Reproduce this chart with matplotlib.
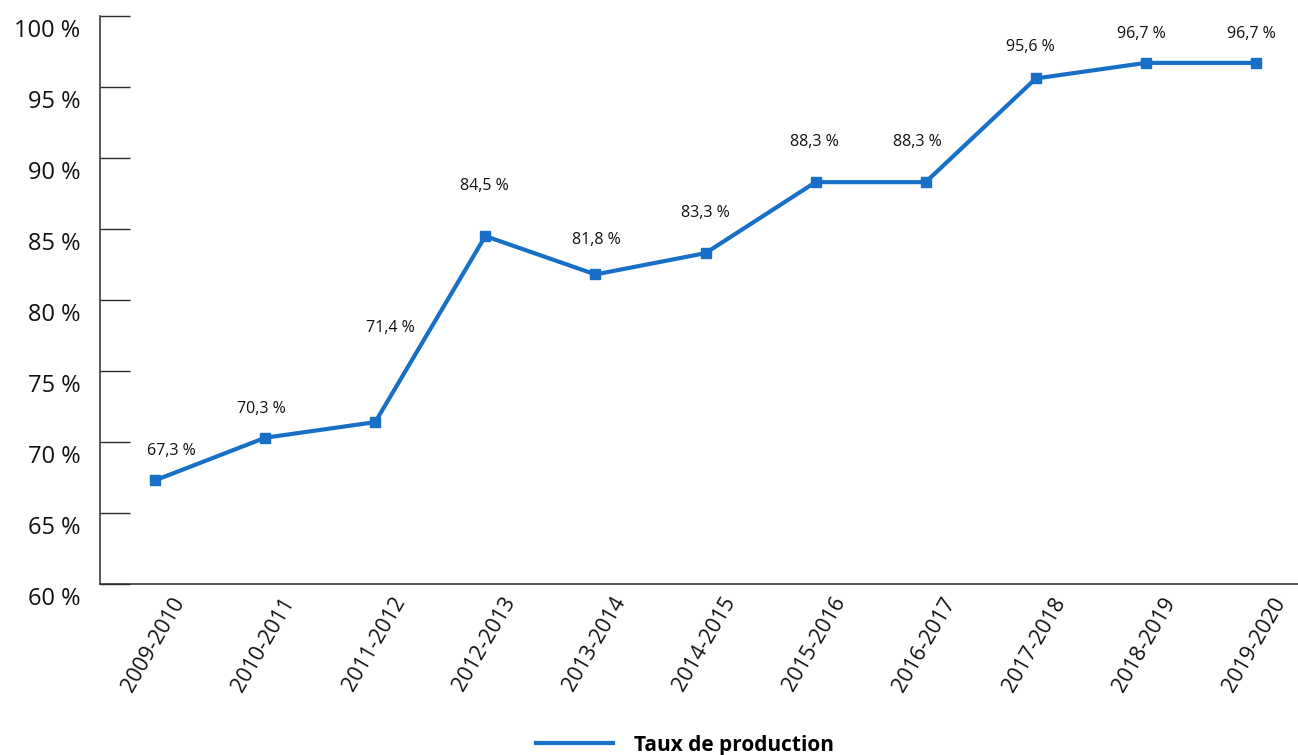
import matplotlib
matplotlib.use("Agg")
import matplotlib.pyplot as plt
import matplotlib.transforms as mtransforms

plt.rcParams['font.family'] = ['Open Sans', 'DejaVu Sans']

# Data
years = ["2009-2010", "2010-2011", "2011-2012", "2012-2013", "2013-2014",
         "2014-2015", "2015-2016", "2016-2017", "2017-2018", "2018-2019",
         "2019-2020"]
taux = [67.3, 70.3, 71.4, 84.5, 81.8, 83.3, 88.3, 88.3, 95.6, 96.7, 96.7]
y_ticks = [60, 65, 70, 75, 80, 85, 90, 95, 100]

# label offsets (points) relative to each marker
label_dx = [12, -3, 11, -1, 1, 0, -1, -6, -4, -3, -3]
label_dy = [21, 21, 68, 36, 25, 29, 29, 29, 23, 21, 21]

BLUE = "#176fc8"
DARK = "#2b2b2b"


def main():
    fig = plt.figure(figsize=(12.98, 7.55), dpi=100)
    ax = fig.add_axes([100 / 1298, 171 / 755, 1211 / 1298, 568 / 755])

    x = list(range(len(years)))
    ax.plot(x, taux, color=BLUE, linewidth=3, marker="s", markersize=7.5,
            clip_on=False, zorder=3)

    for i, v in enumerate(taux):
        ax.annotate(f"{v:.1f} %".replace(".", ","), (x[i], v),
                    xytext=(label_dx[i], label_dy[i]), textcoords="offset points",
                    ha="center", va="center", fontsize=11.5, color="#111111")

    ax.set_xlim(-0.5, len(years) - 0.5)
    ax.set_ylim(60, 100)
    ax.set_yticks(y_ticks)
    ax.set_yticklabels([f"{t} %" for t in y_ticks])
    ax.set_xticks(x)
    ax.set_xticklabels(years)

    for s in ["top", "right"]:
        ax.spines[s].set_visible(False)
    for s in ["left", "bottom"]:
        ax.spines[s].set_color(DARK)
        ax.spines[s].set_linewidth(1.1)

    ax.tick_params(axis="y", direction="in", length=21.5, width=1.0,
                   color=DARK, pad=14, labelsize=17, labelcolor="#111111")
    ax.tick_params(axis="x", length=0, pad=2, labelsize=15.5, labelcolor="#111111")

    # y labels sit a little below their tick
    offset_y = mtransforms.ScaledTranslation(0, -12 / 100, fig.dpi_scale_trans)
    for lab in ax.get_yticklabels():
        lab.set_transform(lab.get_transform() + offset_y)

    offset_x = mtransforms.ScaledTranslation(25 / 100, -12 / 100, fig.dpi_scale_trans)
    for lab in ax.get_xticklabels():
        lab.set_rotation(60)
        lab.set_ha("right")
        lab.set_va("center")
        lab.set_rotation_mode("anchor")
        lab.set_transform(lab.get_transform() + offset_x)

    leg = fig.legend(handles=ax.lines, labels=["Taux de production"],
                     loc="center", bbox_to_anchor=(0.528, 0.013), frameon=False,
                     handlelength=3.7, handletextpad=1.0,
                     prop={"weight": "bold", "size": 15})
    leg.legend_handles[0].set_marker("")

    fig.savefig("out.png", dpi=100)


if __name__ == "__main__":
    main()
